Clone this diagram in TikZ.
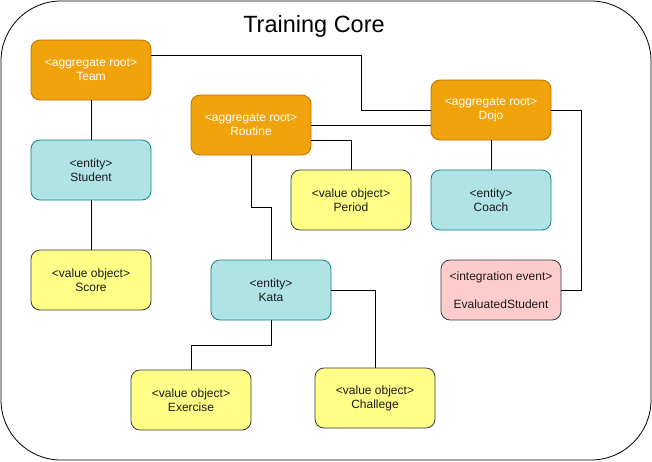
\documentclass[tikz,border=0pt]{standalone}
\usepackage{fontspec}
\setmainfont{Liberation Sans}
\definecolor{orfill}{HTML}{F0A30A}
\definecolor{ordraw}{HTML}{BD7000}
\definecolor{cyfill}{HTML}{B0E3E6}
\definecolor{cydraw}{HTML}{0E8088}
\definecolor{yefill}{HTML}{FFFF88}
\definecolor{yedraw}{HTML}{36393D}
\definecolor{pkfill}{HTML}{FFCCCC}
\definecolor{pkdraw}{HTML}{36393D}
\definecolor{txt}{HTML}{1A1A1A}
\tikzset{
  box/.style={rectangle, rounded corners=9pt, minimum width=120pt, minimum height=60pt,
    align=center, line width=0.8pt, inner sep=0pt, font=\fontsize{12}{14}\selectfont},
  aggbox/.style={box, fill=orfill, draw=ordraw, text=white},
  entbox/.style={box, fill=cyfill, draw=cydraw, text=txt},
  valbox/.style={box, fill=yefill, draw=yedraw, text=txt},
  evtbox/.style={box, fill=pkfill, draw=pkdraw, text=txt},
  conn/.style={draw=black, line width=1pt}
}
\begin{document}
\begin{tikzpicture}[x=1pt,y=-1pt]
\useasboundingbox (0,0) rectangle (652,461);
\draw[line width=0.8pt, rounded corners=60pt] (1,1) rectangle (651,460);
\node[font=\fontsize{23.5}{28}\selectfont] (title) at (314,26) {Training Core};

\node[aggbox] (team) at (91,70) {<aggregate root>\\Team};
\node[entbox] (student) at (91,170) {<entity>\\Student};
\node[valbox] (score) at (91,280) {<value object>\\Score};
\node[aggbox] (routine) at (251,125) {<aggregate root>\\Routine};
\node[aggbox] (dojo) at (491,110) {<aggregate root>\\Dojo};
\node[valbox] (period) at (351,200) {<value object>\\Period};
\node[entbox] (coach) at (491,200) {<entity>\\Coach};
\node[entbox] (kata) at (271,290) {<entity>\\Kata};
\node[evtbox] (event) at (501,290) {<integration event>\\[14pt]EvaluatedStudent};
\node[valbox] (exercise) at (191,400) {<value object>\\Exercise};
\node[valbox] (challege) at (375,398) {<value object>\\Challege};

\draw[conn] ([yshift=15pt]team.east) -| (361,110) -- (dojo.west);
\draw[conn] (team.south) -- (student.north);
\draw[conn] (student.south) -- (score.north);
\draw[conn] (routine.east) -- ([yshift=-15pt]dojo.west);
\draw[conn] ([yshift=-15pt]routine.east) -| (period.north);
\draw[conn] (routine.south) -- (251,207) -| (kata.north);
\draw[conn] (kata.south) -- (271,345) -| (exercise.north);
\draw[conn] (kata.east) -| (challege.north);
\draw[conn] (dojo.south) -- (coach.north);
\draw[conn] (dojo.east) -- (581,110) |- (event.east);
\end{tikzpicture}
\end{document}
